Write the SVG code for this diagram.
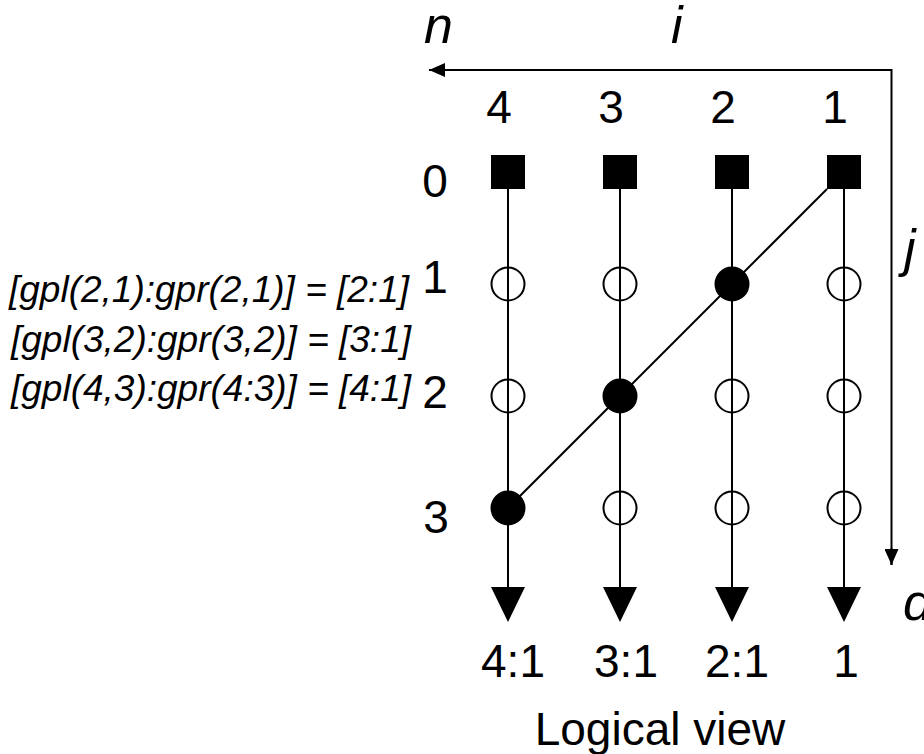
<svg xmlns="http://www.w3.org/2000/svg" width="924" height="754" viewBox="0 0 924 754">
<style>
  .t{font-family:"Liberation Sans",Arial,sans-serif;font-size:46px;fill:#000}
  .ax{font-family:"Liberation Sans",Arial,sans-serif;font-size:52px;font-style:italic;fill:#000}
  .lab{font-family:"Liberation Sans",Arial,sans-serif;font-size:37px;font-style:italic;fill:#000}
  .ln{stroke:#000;stroke-width:2;fill:none}
  .sq{fill:#000}
  .oc{fill:none;stroke:#000;stroke-width:2}
  .fc{fill:#000;stroke:#000;stroke-width:2}
  .tri{fill:#000}
</style>
<defs>
  <marker id="ah" markerWidth="16" markerHeight="14" refX="16" refY="7" orient="auto" markerUnits="userSpaceOnUse">
    <path d="M0,0 L16,7 L0,14 Z" fill="#000"/>
  </marker>
</defs>
<rect width="924" height="754" fill="#fff"/>

<!-- axes labels -->
<text class="ax" x="424" y="43">n</text>
<text class="ax" x="671" y="43">i</text>
<text class="ax" x="904" y="266">j</text>
<text class="ax" x="903" y="620">d</text>

<!-- column labels -->
<text class="t" x="499" y="123" text-anchor="middle">4</text>
<text class="t" x="611" y="123" text-anchor="middle">3</text>
<text class="t" x="723" y="123" text-anchor="middle">2</text>
<text class="t" x="835" y="123" text-anchor="middle">1</text>

<!-- row labels -->
<text class="t" x="435" y="197" text-anchor="middle">0</text>
<text class="t" x="435" y="293" text-anchor="middle">1</text>
<text class="t" x="435" y="408" text-anchor="middle">2</text>
<text class="t" x="436" y="533" text-anchor="middle">3</text>

<!-- left labels -->
<text class="lab" x="9" y="302">[gpl(2,1):gpr(2,1)] = [2:1]</text>
<text class="lab" x="11" y="352">[gpl(3,2):gpr(3,2)] = [3:1]</text>
<text class="lab" x="11" y="401">[gpl(4,3):gpr(4:3)] = [4:1]</text>

<!-- bottom labels -->
<text class="t" x="513" y="677" text-anchor="middle">4:1</text>
<text class="t" x="626" y="677" text-anchor="middle">3:1</text>
<text class="t" x="737" y="677" text-anchor="middle">2:1</text>
<text class="t" x="846" y="677" text-anchor="middle">1</text>
<text class="t" x="660" y="745" text-anchor="middle">Logical view</text>

<!-- connectors -->
<g id="connectors">
  <polyline class="ln" points="891.5,565 891.5,70 429,70" marker-end="url(#ah)"/>
  <line class="ln" x1="891.5" y1="548" x2="891.5" y2="565" marker-end="url(#ah)"/>
  <line class="ln" x1="508" y1="189" x2="508" y2="590"/>
  <line class="ln" x1="620" y1="189" x2="620" y2="590"/>
  <line class="ln" x1="732" y1="189" x2="732" y2="590"/>
  <line class="ln" x1="844" y1="189" x2="844" y2="590"/>
  <line class="ln" x1="827" y1="189" x2="508" y2="508"/>
</g>

<!-- row 0: squares -->
<g id="s4"><rect class="sq" x="491" y="155" width="34" height="34"/></g>
<g id="s3"><rect class="sq" x="603" y="155" width="34" height="34"/></g>
<g id="s2"><rect class="sq" x="715" y="155" width="34" height="34"/></g>
<g id="s1"><rect class="sq" x="827" y="155" width="34" height="34"/></g>

<!-- row 1 -->
<g id="c4_1"><circle class="oc" cx="508" cy="284" r="16.5"/></g>
<g id="c3_1"><circle class="oc" cx="620" cy="284" r="16.5"/></g>
<g id="c2_1"><circle class="fc" cx="732" cy="284" r="16.5"/></g>
<g id="c1_1"><circle class="oc" cx="844" cy="284" r="16.5"/></g>
<!-- row 2 -->
<g id="c4_2"><circle class="oc" cx="508" cy="396" r="16.5"/></g>
<g id="c3_2"><circle class="fc" cx="620" cy="396" r="16.5"/></g>
<g id="c2_2"><circle class="oc" cx="732" cy="396" r="16.5"/></g>
<g id="c1_2"><circle class="oc" cx="844" cy="396" r="16.5"/></g>
<!-- row 3 -->
<g id="c4_3"><circle class="fc" cx="508" cy="508" r="16.5"/></g>
<g id="c3_3"><circle class="oc" cx="620" cy="508" r="16.5"/></g>
<g id="c2_3"><circle class="oc" cx="732" cy="508" r="16.5"/></g>
<g id="c1_3"><circle class="oc" cx="844" cy="508" r="16.5"/></g>

<!-- outputs -->
<g id="o4"><path class="tri" d="M491,587 L525,587 L508,622 Z"/></g>
<g id="o3"><path class="tri" d="M603,587 L637,587 L620,622 Z"/></g>
<g id="o2"><path class="tri" d="M715,587 L749,587 L732,622 Z"/></g>
<g id="o1"><path class="tri" d="M827,587 L861,587 L844,622 Z"/></g>
</svg>
